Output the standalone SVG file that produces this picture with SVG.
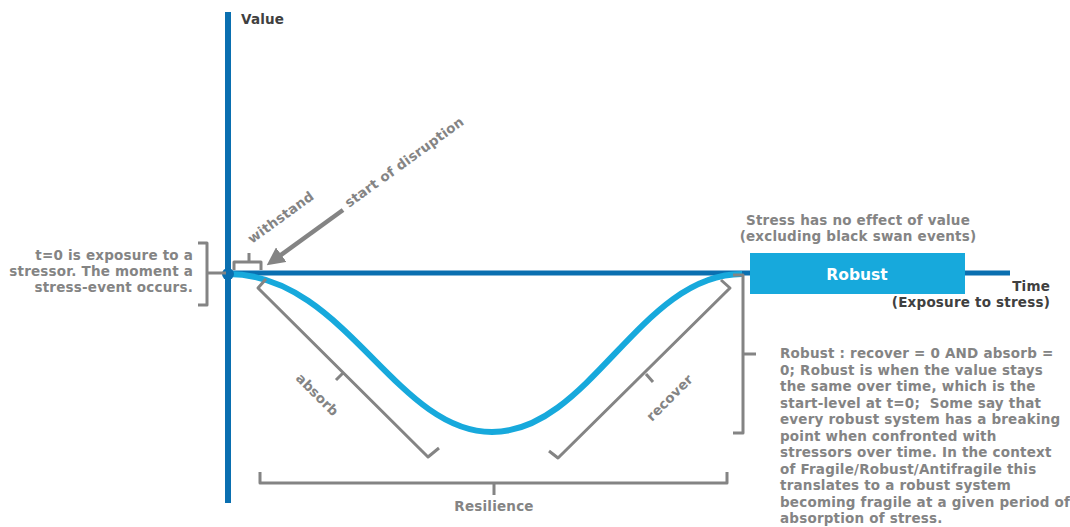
<svg xmlns="http://www.w3.org/2000/svg" width="1070" height="527" viewBox="0 0 1070 527">
<defs>
<style>
.axis{stroke:#0a6fb0;fill:none}
.curve{stroke:#17a9dc;stroke-width:6;fill:none}
.br{stroke:#848484;stroke-width:3;fill:none;stroke-linejoin:round}
.t{font-family:"DejaVu Sans",Verdana,sans-serif;font-weight:bold;font-size:13.5px;letter-spacing:0.2px;fill:#848484}
.d{font-family:"DejaVu Sans",Verdana,sans-serif;font-weight:bold;font-size:13.5px;letter-spacing:0.2px;fill:#404040}
</style>
<marker id="ah" markerWidth="4" markerHeight="4" refX="2" refY="2" orient="auto" markerUnits="strokeWidth">
<path d="M0,0 L4,2 L0,4 Z" fill="#848484"/>
</marker>
</defs>
<rect width="1070" height="527" fill="#ffffff"/>
<g id="connectors">
<line class="axis" x1="228" y1="12" x2="228" y2="503" stroke-width="6"/>
<line class="axis" x1="228" y1="273" x2="1010" y2="273" stroke-width="5"/>
<path class="curve" d="M228,274 C345,274 395,432 492,432 C590,432 640,274 742,274"/>
<circle cx="228" cy="274" r="6" fill="#0a6fb0"/>
<line x1="343" y1="210" x2="274" y2="260" stroke="#848484" stroke-width="4.5" marker-end="url(#ah)"/>
</g>
<g id="value-label"><text class="d" x="241" y="24">Value</text></g>
<g id="time-label">
<text class="d" x="1050" y="291" text-anchor="end">Time</text>
<text class="d" x="1050" y="307" text-anchor="end">(Exposure to stress)</text>
</g>
<g id="t0">
<path class="br" d="M198,243 H207 V305 H198 M207,273 H226"/>
<text class="t" x="193" y="260" text-anchor="end">t=0 is exposure to a</text>
<text class="t" x="193" y="276" text-anchor="end">stressor. The moment a</text>
<text class="t" x="193" y="292" text-anchor="end">stress-event occurs.</text>
</g>
<g id="withstand">
<path class="br" d="M234,270 V262 H261 V270 M249,262 V253"/>
<text class="t" transform="translate(252,244) rotate(-36)">withstand</text>
</g>
<g id="start-of-disruption">
<text class="t" transform="translate(349,208) rotate(-36)">start of disruption</text>
</g>
<g id="absorb">
<path class="br" d="M266,279 L258,288 L428,457 L439,448 M343,373 L336,380"/>
<text class="t" text-anchor="middle" transform="translate(314,398) rotate(45)">absorb</text>
</g>
<g id="recover">
<path class="br" d="M721,280 L730,288 L558,458 L549,451 M646,374 L653,382"/>
<text class="t" text-anchor="middle" transform="translate(673,401) rotate(-45)">recover</text>
</g>
<g id="robust-range">
<path class="br" d="M733,275 H743 V433 H733 M743,354 H756"/>
</g>
<g id="resilience">
<path class="br" d="M260,472 V483 H727 V472 M494,483 V495"/>
<text class="t" x="494" y="511" text-anchor="middle">Resilience</text>
</g>
<g id="robust-box">
<rect x="750" y="253" width="215" height="41" fill="#17a9dc"/>
<text x="857" y="280" text-anchor="middle" font-family="'DejaVu Sans',Verdana,sans-serif" font-weight="bold" font-size="15.5" fill="#ffffff">Robust</text>
<text class="t" x="858" y="225" text-anchor="middle">Stress has no effect of value</text>
<text class="t" x="858" y="241" text-anchor="middle">(excluding black swan events)</text>
</g>
<g id="robust-desc">
<text class="t" x="780" y="358">Robust : recover = 0 AND absorb =</text>
<text class="t" x="780" y="374.5">0; Robust is when the value stays</text>
<text class="t" x="780" y="391">the same over time, which is the</text>
<text class="t" x="780" y="407.5" style="white-space:pre">start-level at t=0;  Some say that</text>
<text class="t" x="780" y="424">every robust system has a breaking</text>
<text class="t" x="780" y="440.5">point when confronted with</text>
<text class="t" x="780" y="457">stressors over time. In the context</text>
<text class="t" x="780" y="473.5">of Fragile/Robust/Antifragile this</text>
<text class="t" x="780" y="490">translates to a robust system</text>
<text class="t" x="780" y="506.5">becoming fragile at a given period of</text>
<text class="t" x="780" y="523">absorption of stress.</text>
</g>
</svg>
